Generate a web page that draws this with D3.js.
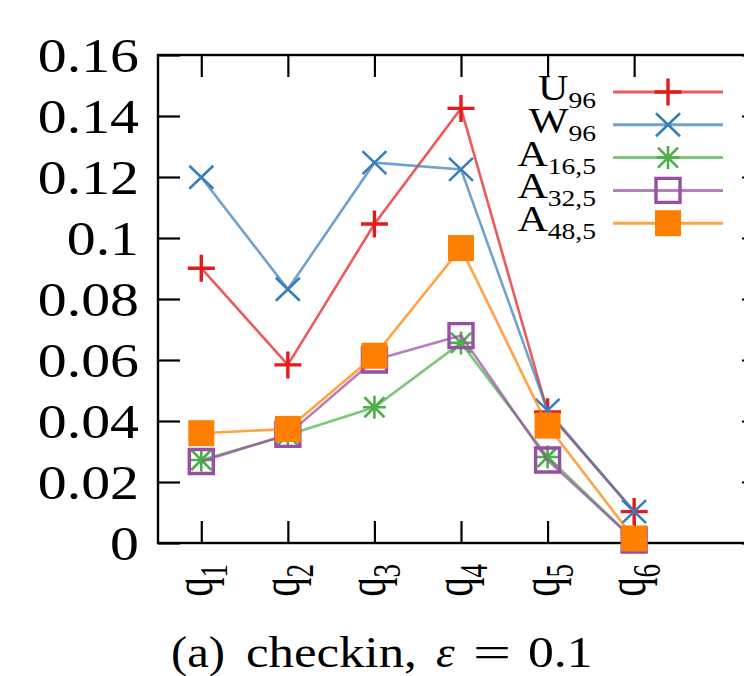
<!DOCTYPE html>
<html>
<head>
<meta charset="utf-8">
<script src="https://cdn.jsdelivr.net/npm/d3@7"></script>
<style>
  body { margin: 0; background: #fff; }
  svg { display: block; }
  text { font-family: "Liberation Serif", "Times New Roman", serif; fill: #000; }
</style>
</head>
<body>
<div id="chart"></div>
<script>
// query indices (q1..q6)
var queries = [1, 2, 3, 4, 5, 6];
var queryLabels = ["1", "2", "3", "4", "5", "6"];

// series values
var u96  = [0.0901, 0.0584, 0.1046, 0.1425, 0.0430, 0.0103];
var w96  = [0.1199, 0.0832, 0.1247, 0.1225, 0.0435, 0.0103];
var a165 = [0.0272, 0.0354, 0.0445, 0.0656, 0.0282, 0.0010];
var a325 = [0.0267, 0.0356, 0.0600, 0.0680, 0.0272, 0.0010];
var a485 = [0.0360, 0.0374, 0.0614, 0.0967, 0.0385, 0.0015];

var seriesMain = ["U", "W", "A", "A", "A"];
var seriesSub  = ["96", "96", "16,5", "32,5", "48,5"];

var yTicks = [0, 0.02, 0.04, 0.06, 0.08, 0.1, 0.12, 0.14, 0.16];
var yTickLabels = ["0", "0.02", "0.04", "0.06", "0.08", "0.1", "0.12", "0.14", "0.16"];

var series = [
  {main: seriesMain[0], sub: seriesSub[0], values: u96,  color: "#e41a1c", shape: "plus"},
  {main: seriesMain[1], sub: seriesSub[1], values: w96,  color: "#377eb8", shape: "cross"},
  {main: seriesMain[2], sub: seriesSub[2], values: a165, color: "#4daf4a", shape: "star"},
  {main: seriesMain[3], sub: seriesSub[3], values: a325, color: "#984ea3", shape: "square"},
  {main: seriesMain[4], sub: seriesSub[4], values: a485, color: "#ff7f00", shape: "filled"}
];

var W = 744, H = 676;
// plot frame edges (the right edge lies just outside the window)
var pLeft = 158, pRight = 764, pTop = 55, pBottom = 543;

var svg = d3.select("#chart")
  .append("svg")
    .attr("width", W)
    .attr("height", H);

var x = d3.scaleLinear().domain([0.5, 7.5]).range([pLeft, pRight]);
var y = d3.scaleLinear().domain([0, 0.16]).range([pBottom, pTop]);

// ticks (inward, mirrored on all four sides)
function styleAxis(g) {
  g.select(".domain").remove();
  g.selectAll("line").attr("stroke", "#000").attr("stroke-width", 2.2);
  g.selectAll("text").remove();
}
svg.append("g").attr("transform", "translate(" + pLeft + ",0)")
  .call(d3.axisLeft(y).tickValues(yTicks).tickSize(-22)).call(styleAxis);
svg.append("g").attr("transform", "translate(" + pRight + ",0)")
  .call(d3.axisRight(y).tickValues(yTicks).tickSize(-22)).call(styleAxis);
svg.append("g").attr("transform", "translate(0," + pBottom + ")")
  .call(d3.axisBottom(x).tickValues(queries).tickSize(-22)).call(styleAxis);
svg.append("g").attr("transform", "translate(0," + pTop + ")")
  .call(d3.axisTop(x).tickValues(queries).tickSize(-22)).call(styleAxis);

// frame
svg.append("rect")
  .attr("x", pLeft).attr("y", pTop)
  .attr("width", pRight - pLeft).attr("height", pBottom - pTop)
  .attr("fill", "none").attr("stroke", "#000").attr("stroke-width", 2.4);

// y labels
svg.selectAll(".ylab")
  .data(yTicks)
  .enter()
  .append("g")
    .attr("transform", function(d) { return "translate(139," + (y(d) + 17) + ") scale(1.18,1)"; })
  .append("text")
    .attr("text-anchor", "end")
    .attr("font-size", 49)
    .text(function(d, i) { return yTickLabels[i]; });

// x labels, rotated q_i
var xl = svg.selectAll(".xlab")
  .data(queries)
  .enter()
  .append("g")
    .attr("transform", function(d) { return "translate(" + (x(d) + 11) + ",564) rotate(-90) scale(1,1.45)"; })
  .append("text")
    .attr("text-anchor", "end")
    .attr("font-size", 38);
xl.append("tspan").text("q");
xl.append("tspan").attr("font-size", 27).attr("dy", 10)
  .text(function(d, i) { return queryLabels[i]; });

// marker shapes
function markerPath(shape) {
  if (shape === "plus") return "M-13.5,0H13.5M0,-13.5V13.5";
  if (shape === "cross") return "M-12,-11.5L12,11.5M-12,11.5L12,-11.5";
  if (shape === "star") return "M-11.5,0H11.5M0,-11.5V11.5M-10,-10L10,10M-10,10L10,-10";
  if (shape === "square") return "M-12,-12H12V12H-12Z";
  return "M-13,-13H13V13H-13Z";
}
function drawMarker(g, s) {
  var filled = s.shape === "filled";
  g.append("path")
    .attr("d", markerPath(s.shape))
    .attr("fill", filled ? s.color : "none")
    .attr("stroke", filled ? "none" : s.color)
    .attr("stroke-width", s.shape === "plus" || s.shape === "square" ? 3.4 : 2.6);
}

var line = d3.line()
  .x(function(d, i) { return x(queries[i]); })
  .y(function(d) { return y(d); });

series.forEach(function(s) {
  svg.append("path")
    .datum(s.values)
    .attr("d", line)
    .attr("fill", "none")
    .attr("stroke", s.color)
    .attr("stroke-opacity", 0.72)
    .attr("stroke-width", 2.6);

  svg.selectAll(null)
    .data(s.values)
    .enter()
    .append("g")
      .attr("transform", function(d, i) { return "translate(" + x(queries[i]) + "," + y(d) + ")"; })
      .each(function() { drawMarker(d3.select(this), s); });
});

// legend
series.forEach(function(s, i) {
  var ly = 92 + i * 32.8;
  svg.append("line")
    .attr("x1", 613).attr("x2", 723)
    .attr("y1", ly).attr("y2", ly)
    .attr("stroke", s.color)
    .attr("stroke-opacity", 0.72)
    .attr("stroke-width", 3);
  var mg = svg.append("g").attr("transform", "translate(668," + ly + ")");
  drawMarker(mg, s);
  var t = svg.append("g")
      .attr("transform", "translate(596," + (ly + 8) + ") scale(1.2,1)")
    .append("text")
      .attr("text-anchor", "end")
      .attr("font-size", 35);
  t.append("tspan").text(s.main);
  t.append("tspan").attr("font-size", 23).attr("dy", 8).text(s.sub);
});

// caption, pieces placed where they sit in the picture
function capPiece(px, str, sx, italic) {
  svg.append("g")
    .attr("transform", "translate(" + px + ",667) scale(" + sx + ",1)")
  .append("text")
    .attr("font-size", 45)
    .attr("font-style", italic ? "italic" : "normal")
    .text(str);
}
capPiece(171, "(a)", 1.08, false);
capPiece(246, "checkin,", 1.13, false);
capPiece(436, "\u03b5", 1.05, true);
capPiece(473, "=", 1.5, false);
capPiece(528, "0.1", 1.15, false);
</script>
</body>
</html>
